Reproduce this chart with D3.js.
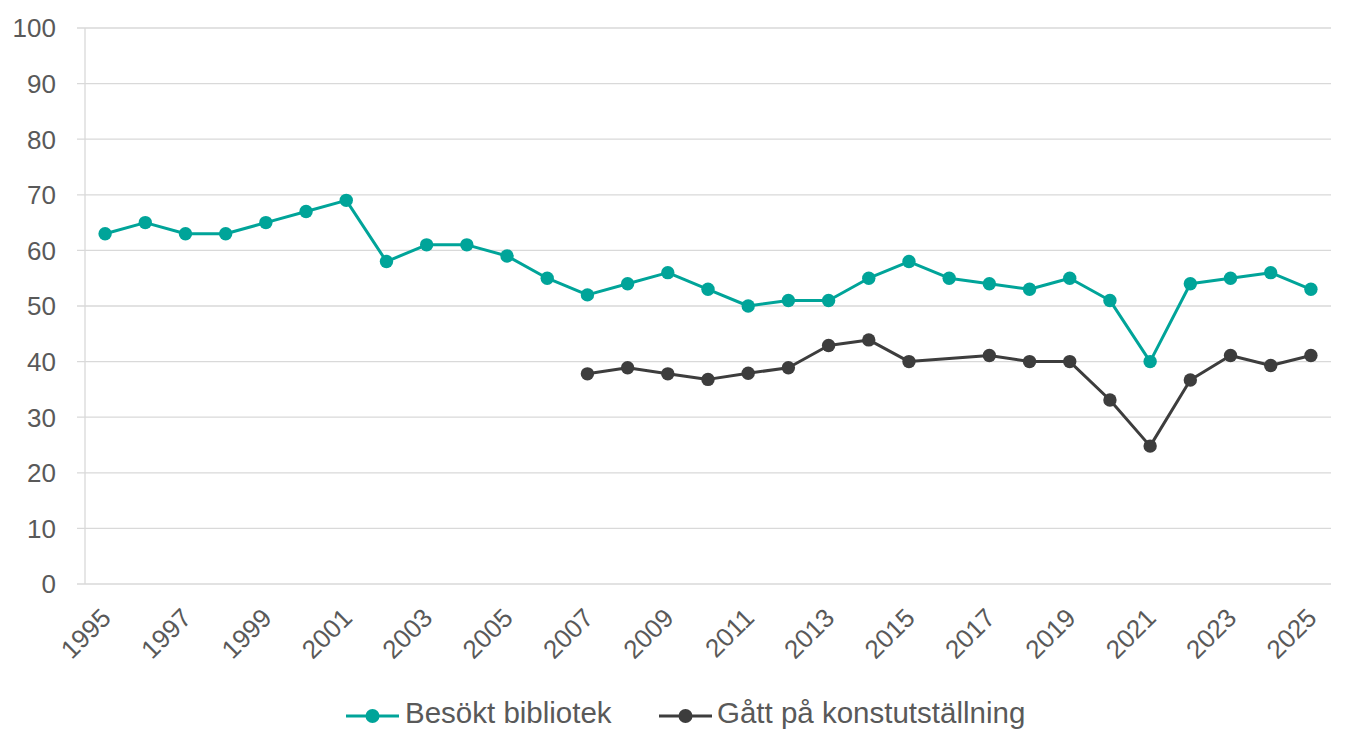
<!DOCTYPE html>
<html><head><meta charset="utf-8">
<script src="https://cdn.jsdelivr.net/npm/d3@7"></script>
<style>body{margin:0;background:#fff;} svg{display:block;font-family:"Liberation Sans",Arial,sans-serif;}</style>
</head><body>
<svg id="c" width="1360" height="756"></svg>
<script>
const years = d3.range(1995, 2026).map(String);
const bibliotek = [63,65,63,63,65,67,69,58,61,61,59,55,52,54,56,53,50,51,51,55,58,55,54,53,55,51,40,54,55,56,53];
const konst = [null,null,null,null,null,null,null,null,null,null,null,null,37.8,38.9,37.8,36.8,37.9,38.9,42.9,43.9,40,null,41.1,40,40,33.1,24.8,36.7,41.1,39.3,41.1];
const yTicks = [0,10,20,30,40,50,60,70,80,90,100];
const seriesNames = ["Besökt bibliotek","Gått på konstutställning"];
const colors = ["#00A499","#3D3D3D"];

const svg = d3.select("#c");
const L = 85, R = 1331, T = 28, B = 584;
const x = d3.scaleBand().domain(years).range([L, R]);
const y = d3.scaleLinear().domain([0,100]).range([B, T]);
const cx = d => x(d) + x.bandwidth()/2;

// grid
svg.append("g").selectAll("line").data(yTicks).join("line")
  .attr("x1", L-8).attr("x2", R).attr("y1", d=>y(d)).attr("y2", d=>y(d))
  .attr("stroke", "#D9D9D9").attr("stroke-width", 1.3);
svg.append("line").attr("x1", L).attr("x2", L).attr("y1", T).attr("y2", B)
  .attr("stroke", "#D9D9D9").attr("stroke-width", 1.3);
svg.append("g").selectAll("text").data(yTicks).join("text")
  .attr("x", 56).attr("y", d=>y(d)).attr("dy", "0.36em").attr("text-anchor", "end")
  .attr("font-size", 26).attr("fill", "#595959").text(d=>d);

// x labels
const xl = years.filter((d,i)=>i%2===0);
svg.append("g").selectAll("text").data(xl).join("text")
  .attr("transform", d=>`translate(${cx(d)+1},${B+29}) rotate(-45)`)
  .attr("text-anchor", "end").attr("dy", "0.35em")
  .attr("font-size", 26).attr("fill", "#595959").text(d=>d);

const data = [bibliotek, konst];
data.forEach((vals, si) => {
  const pts = years.map((yr,i)=>({yr, v: vals[i]})).filter(p=>p.v!==null);
  const line = d3.line().x(p=>cx(p.yr)).y(p=>y(p.v));
  svg.append("path").datum(pts).attr("d", line).attr("fill","none")
    .attr("stroke", colors[si]).attr("stroke-width", 3).attr("stroke-linejoin","round");
  svg.append("g").selectAll("circle").data(pts).join("circle")
    .attr("cx", p=>cx(p.yr)).attr("cy", p=>y(p.v)).attr("r", 6.7)
    .attr("fill", colors[si]);
});

// legend
const leg = [{x:346, tx:405}, {x:659, tx:717}];
seriesNames.forEach((n,i)=>{
  const g = svg.append("g");
  g.append("line").attr("x1", leg[i].x).attr("x2", leg[i].x+53).attr("y1", 716).attr("y2", 716)
    .attr("stroke", colors[i]).attr("stroke-width", 2.8);
  g.append("circle").attr("cx", leg[i].x+26.5).attr("cy", 716).attr("r", 7).attr("fill", colors[i]);
  g.append("text").attr("x", leg[i].tx).attr("y", 723)
    .attr("font-size", 29.5).attr("fill", "#595959").text(n);
});
</script>
</body></html>
